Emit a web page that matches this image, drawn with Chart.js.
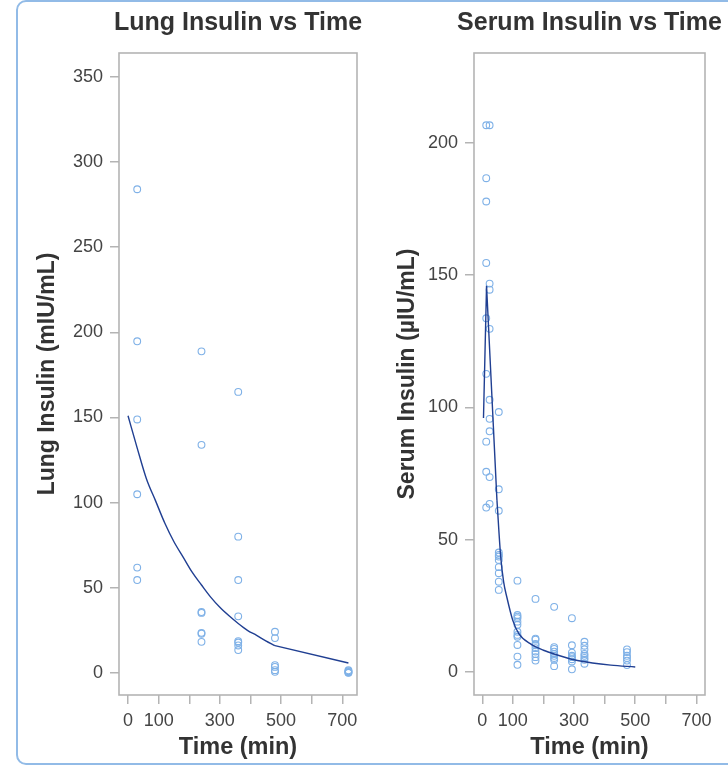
<!DOCTYPE html>
<html>
<head>
<meta charset="utf-8">
<script src="https://cdn.jsdelivr.net/npm/chart.js@4/dist/chart.umd.min.js"></script>
<style>
  html, body { margin: 0; padding: 0; background: #fff; }
  body { width: 728px; height: 775px; position: relative; overflow: hidden; }
  #frame { position: absolute; left: 16px; top: 0px; width: 760px; height: 765px;
           box-sizing: border-box; border: 2.5px solid #92bbe7; border-radius: 10px; }
  canvas { position: absolute; top: 0; }
  #c1 { left: 0; }
  #c2 { left: 370px; }
</style>
</head>
<body>
<div id="frame"></div>
<canvas id="c1" width="370" height="775"></canvas>
<canvas id="c2" width="358" height="775"></canvas>
<script>
// ---------- Data: Lung insulin ----------
const lungTimes = [30, 240, 360, 480, 720];
const lungValues = [
  [284, 194.7, 148.8, 104.9, 61.8, 54.5],
  [188.8, 133.9, 35.7, 35.2, 23.5, 23, 18.2],
  [165, 80, 54.5, 33.2, 18.6, 17.8, 16.1, 13.4],
  [24.1, 20.4, 4.5, 3.5, 1.6, 0.6],
  [1.5, 1, 0.5, 0.2, 0]
];
// fitted curve (smooth part, then straight tail)
const lungFitTimes  = [0, 30, 60, 90, 120, 150, 180, 210, 240, 270, 300, 330, 360, 390, 420, 450, 480];
const lungFitValues = [151, 132, 114, 101, 88, 77, 68, 59, 51.6, 44.5, 38.5, 33.5, 29, 25, 22, 18.8, 16];
const lungTailTimes  = [480, 720];
const lungTailValues = [16, 5.8];

// ---------- Data: Serum insulin ----------
const serumTimes = [13, 24, 54, 115, 174, 235, 293, 334, 473];
const serumValues = [
  [206.6, 186.6, 177.8, 154.6, 133.7, 112.7, 87.1, 75.7, 62.2],
  [206.6, 146.8, 144.5, 129.7, 102.9, 95.7, 91, 73.7, 63.6],
  [98.3, 69.1, 61, 45.2, 44.3, 43.7, 42.4, 39.7, 37.4, 34.2, 31.1],
  [34.6, 21.6, 21, 20.4, 19.1, 17.9, 15.3, 14.1, 13.4, 10.3, 5.9, 2.8],
  [27.7, 12.7, 12.3, 10.7, 10.2, 9.1, 7.8, 6.9, 5.7, 4.4],
  [24.7, 9.5, 8.8, 7.8, 6.9, 6.2, 5.4, 4.7, 2.3],
  [20.4, 10.2, 7.4, 6.2, 5.7, 4.9, 4.1, 1.1],
  [11.5, 10, 8.6, 6.9, 6.2, 5.4, 4.7, 3.2],
  [8.6, 7.6, 6.2, 5.4, 4.4, 2.7]
];
// fitted curve: sharp peak, then smooth decay
const serumPeakTimes  = [4, 14, 48];
const serumPeakValues = [96, 146, 65];
const serumDecayTimes  = [48, 60, 70, 80, 100, 120, 160, 200, 240, 300, 360, 420, 500];
const serumDecayValues = [65, 44, 34, 28.5, 19.5, 14.5, 10.5, 8.3, 6.7, 4.7, 3.5, 2.7, 2.0];

// ---------- Tick labels ----------
const xTickLabels = [0, 100, 300, 500, 700];
const lungYTicks = [0, 50, 100, 150, 200, 250, 300, 350];
const serumYTicks = [0, 50, 100, 150, 200];

const FONT = '"Liberation Sans", Arial, Helvetica, sans-serif';
const POINT_COLOR = '#7fb1e7';
const LINE_COLOR = '#203f92';
const AXIS_COLOR = '#b4b4b4';
const TEXT_COLOR = '#444444';
const TITLE_COLOR = '#333333';

function toPoints(times, groups) {
  const pts = [];
  times.forEach((t, i) => groups[i].forEach(v => pts.push({x: t, y: v})));
  return pts;
}
function toLine(xs, ys) { return xs.map((x, i) => ({x: x, y: ys[i]})); }

const boxAndTitle = {
  id: 'boxAndTitle',
  afterDraw(chart, args, opts) {
    const {ctx, chartArea: a} = chart;
    ctx.save();
    ctx.strokeStyle = AXIS_COLOR;
    ctx.lineWidth = 1.6;
    ctx.strokeRect(a.left, a.top, a.right - a.left, a.bottom - a.top);
    ctx.fillStyle = TITLE_COLOR;
    ctx.font = 'bold 25px ' + FONT;
    ctx.textAlign = 'center';
    ctx.textBaseline = 'middle';
    ctx.fillText(opts.text, (a.left + a.right) / 2, 23);
    ctx.restore();
  }
};

function lineSet(data, smooth) {
  return { data: data, showLine: true, pointRadius: 0, borderColor: LINE_COLOR,
           borderWidth: 1.4, tension: 0, fill: false, order: 1,
           cubicInterpolationMode: smooth ? 'monotone' : 'default' };
}

function makeChart(id, cfg) {
  return new Chart(document.getElementById(id), {
    type: 'scatter',
    data: {
      datasets: [
        { data: cfg.points, showLine: false, pointRadius: 3.4, pointHoverRadius: 3.4,
          pointBorderWidth: 1.1, borderColor: POINT_COLOR, backgroundColor: 'rgba(0,0,0,0)',
          pointBorderColor: POINT_COLOR, pointBackgroundColor: 'rgba(0,0,0,0)', order: 2 }
      ].concat(cfg.lines)
    },
    options: {
      responsive: false,
      animation: false,
      devicePixelRatio: 1,
      layout: { padding: { top: 53, right: cfg.padRight, left: 0, bottom: 0 } },
      plugins: { legend: { display: false }, tooltip: { enabled: false },
                 title: { display: false }, boxAndTitle: { text: cfg.title } },
      scales: {
        x: {
          type: 'linear', min: cfg.xMin, max: cfg.xMax,
          afterFit: s => { s.height = 80; },
          ticks: { stepSize: 100, includeBounds: false, autoSkip: false, maxRotation: 0,
                   padding: 6, color: TEXT_COLOR, font: { family: FONT, size: 18 },
                   callback: v => xTickLabels.includes(v) ? String(v) : '' },
          grid: { display: true, drawOnChartArea: false, drawTicks: true, tickLength: 9,
                  color: AXIS_COLOR, lineWidth: 1.5 },
          border: { display: false },
          title: { display: true, text: 'Time (min)', color: TITLE_COLOR,
                   font: { family: FONT, size: 23.5, weight: 'bold' }, padding: { top: 0, bottom: 13 } }
        },
        y: {
          type: 'linear', min: cfg.yMin, max: cfg.yMax,
          afterFit: s => { s.width = cfg.yWidth; },
          afterBuildTicks: s => { s.ticks = cfg.yTicks.map(v => ({value: v})); },
          ticks: { padding: 7, color: TEXT_COLOR, font: { family: FONT, size: 18 },
                   callback: v => String(v) },
          grid: { display: true, drawOnChartArea: false, drawTicks: true, tickLength: 9,
                  color: AXIS_COLOR, lineWidth: 1.5 },
          border: { display: false },
          title: { display: true, text: cfg.yTitle, color: TITLE_COLOR,
                   font: { family: FONT, size: 23, weight: 'bold' }, padding: { top: cfg.yTitlePad, bottom: 0 } }
        }
      }
    },
    plugins: [boxAndTitle]
  });
}

makeChart('c1', {
  title: 'Lung Insulin vs Time',
  points: toPoints(lungTimes, lungValues),
  lines: [lineSet(toLine(lungFitTimes, lungFitValues), true),
          lineSet(toLine(lungTailTimes, lungTailValues), false)],
  xMin: -29.5, xMax: 748, yMin: -13, yMax: 364,
  yTicks: lungYTicks, yWidth: 119, padRight: 13, yTitlePad: 34,
  yTitle: 'Lung Insulin (mIU/mL)'
});

makeChart('c2', {
  title: 'Serum Insulin vs Time',
  points: toPoints(serumTimes, serumValues),
  lines: [lineSet(toLine(serumPeakTimes, serumPeakValues), false),
          lineSet(toLine(serumDecayTimes, serumDecayValues), true)],
  xMin: -27, xMax: 728, yMin: -8.6, yMax: 233.9,
  yTicks: serumYTicks, yWidth: 104, padRight: 23, yTitlePad: 24,
  yTitle: 'Serum Insulin (µIU/mL)'
});
</script>
</body>
</html>
